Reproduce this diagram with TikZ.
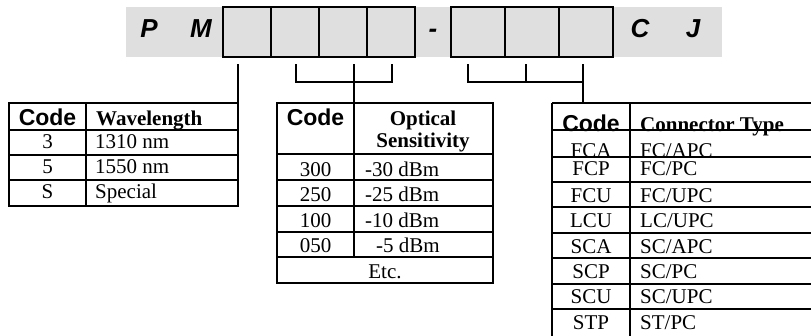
\documentclass[tikz,border=0pt]{standalone}
\usepackage{fontspec}
\setmainfont{Liberation Serif}
\setsansfont{Liberation Sans}
\usetikzlibrary{positioning}

\begin{document}
\begin{tikzpicture}[x=1pt,y=-1pt,
  digit/.style = {draw, line width=2.2pt, minimum height=50pt, inner sep=0pt},
  letter/.style = {font=\sffamily\bfseries\itshape\fontsize{26}{26}\selectfont, anchor=base},
  cell/.style = {font=\fontsize{21}{24}\selectfont, inner sep=0pt, anchor=base},
  head/.style = {cell, font=\bfseries\fontsize{21}{24}\selectfont},
  codehead/.style = {cell, font=\sffamily\bfseries\fontsize{23}{24}\selectfont},
  grid/.style = {line width=2pt},
  bracket/.style = {line width=1.2pt}]
\useasboundingbox (0,0) rectangle (811,335);
\clip (0,0) rectangle (811,335);
% part number
\fill[gray!25] (126,7) rectangle (722,57);
\foreach \i/\x in {1/247,2/295,3/343,4/391}
  \node[digit, minimum width=48pt] (b\i) at (\x,32) {};
\foreach \i/\x in {1/478,2/532,3/586}
  \node[digit, minimum width=54pt] (c\i) at (\x,32) {};
\node[letter] (p) at (149,37) {P};
\node[letter] (m) at (201,37) {M};
\node[letter] (dash) at (433,37) {-};
\node[letter] (c) at (640,37) {C};
\node[letter] (j) at (693,37) {J};
\coordinate (tw) at (238,103);
\coordinate (ts) at (354,103);
\coordinate (tc) at (583,103);
\coordinate (j1) at (354,82);
\coordinate (j2) at (526,82);
\draw[bracket] (tw |- b1.south) ++(0,6) -- (tw);
\draw[bracket] (b2.south) ++(1,6) |- (j1);
\draw[bracket] (b4.south) ++(1,6) |- (j1);
\draw[bracket] (j1 |- b3.south) ++(0,6) -- (ts);
\draw[bracket] (c1.south) ++(-10,6) |- (j2);
\draw[bracket] (c2.south) ++(-6,6) -- (j2);
\draw[bracket] (j2) -- (j2 -| tc);
\draw[bracket] (tc |- c3.south) ++(0,6) -- (tc);
% wavelength
\draw[grid] (9,103) rectangle (238,206) (86,103) -- (86,206);
\foreach \y in {130,155,180} \draw[grid] (9,\y) -- (238,\y);
\node[codehead] (wcode) at (47.5,125) {Code};
\node[head, anchor=base west] (wlen) at (96,125) {Wavelength};
\foreach \c/\v [count=\i] in {3/1310 nm, 5/1550 nm, S/Special} {
  \node[cell] (wc\i) at (47.5,123.5+25*\i) {\c};
  \node[cell, anchor=base west] (wv\i) at (95,123.5+25*\i) {\v};
}
% optical sensitivity
\draw[grid] (277,103) rectangle (493,283) (354,103) -- (354,257);
\foreach \y in {154,180,206,232,257} \draw[grid] (277,\y) -- (493,\y);
\node[codehead] (scode) at (315.5,125) {Code};
\node[head] (sopt) at (423,125) {Optical};
\node[head] (ssen) at (423,147) {Sensitivity};
\foreach \c/\v [count=\i] in {300/-30 dBm, 250/-25 dBm, 100/-10 dBm, 050/\hspace{11pt}-5 dBm} {
  \node[cell] (sc\i) at (315.5,150.5+25.6*\i) {\c};
  \node[cell, anchor=base west] (sv\i) at (365,150.5+25.6*\i) {\v};
}
\node[cell] (setc) at (385,278.5) {Etc.};
% connector type
\draw[grid] (552,103) -- (552,340) (630,103) -- (630,340);
\foreach \y in {103,130,157,182,207,233,258,284,309} \draw[grid] (552,\y) -- (830,\y);
\node[codehead] (ccode) at (591,131) {Code};
\node[head, anchor=base west] (ctype) at (640,131) {Connector Type};
\node[cell] (cc1) at (591,157) {FCA};
\node[cell, anchor=base west] (cv1) at (640,157) {FC/APC};
\foreach \c/\v/\y [count=\i from 2] in {FCP/{FC/PC}/175, FCU/{FC/UPC}/202, LCU/{LC/UPC}/227,
    SCA/{SC/APC}/253, SCP/{SC/PC}/278, SCU/{SC/UPC}/303, STP/{ST/PC}/329} {
  \node[cell] (cc\i) at (591,\y) {\c};
  \node[cell, anchor=base west] (cv\i) at (640,\y) {\v};
}
\end{tikzpicture}
\end{document}
